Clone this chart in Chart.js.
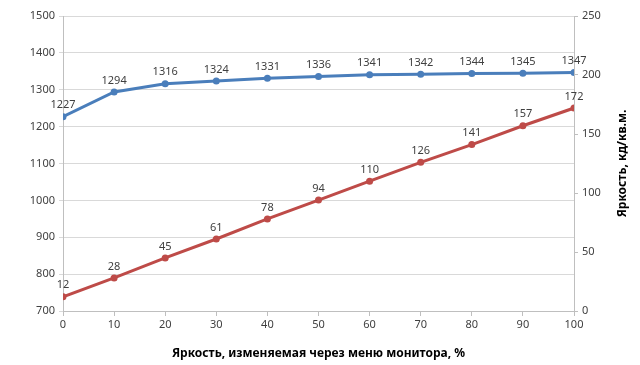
<!DOCTYPE html>
<html>
<head>
<meta charset="utf-8">
<script src="https://cdn.jsdelivr.net/npm/chart.js@4/dist/chart.umd.min.js"></script>
<style>
  html, body { margin: 0; padding: 0; background: #fff; }
  #wrap { width: 640px; height: 365px; position: relative; }
</style>
</head>
<body>
<div id="wrap"><canvas id="line-chart"></canvas></div>
<script>
// menu brightness setting, %
var xValues = [0, 10, 20, 30, 40, 50, 60, 70, 80, 90, 100];
// left axis series (blue)
var blueValues = [1227, 1294, 1316, 1324, 1331, 1336, 1341, 1342, 1344, 1345, 1347];
// right axis series: brightness, cd/m2 (red)
var redValues = [12, 28, 45, 61, 78, 94, 110, 126, 141, 157, 172];

var xTitle = "Яркость, изменяемая через меню монитора, %";
var rightTitle = "Яркость, кд/кв.м.";

function toPoints(vals) {
  return xValues.map(function (x, i) { return { x: x, y: vals[i] }; });
}
function plain(v) { return String(v); }

var font = "'Noto Sans', 'Liberation Sans', sans-serif";
var gridGray = "#d9d9d9";
var axisGray = "#bfbfbf";

// value labels above each point
var pointLabels = {
  id: 'pointLabels',
  afterDatasetsDraw: function (chart) {
    var ctx = chart.ctx;
    ctx.save();
    ctx.font = "11px " + font;
    ctx.fillStyle = "#404040";
    ctx.textAlign = "center";
    ctx.textBaseline = "bottom";
    chart.data.datasets.forEach(function (ds, di) {
      chart.getDatasetMeta(di).data.forEach(function (pt, i) {
        ctx.fillText(ds.data[i].y, pt.x, pt.y - 6);
      });
    });
    ctx.restore();
  }
};

// right axis title reads bottom-to-top
var rightTitlePlugin = {
  id: 'rightTitle',
  afterDraw: function (chart) {
    var ctx = chart.ctx;
    var area = chart.chartArea;
    ctx.save();
    ctx.translate(623, (area.top + area.bottom) / 2);
    ctx.rotate(-Math.PI / 2);
    ctx.font = "bold 12px " + font;
    ctx.fillStyle = "#000";
    ctx.textAlign = "center";
    ctx.textBaseline = "middle";
    ctx.fillText(rightTitle, 0, 0);
    ctx.restore();
  }
};

var ctx = document.getElementById("line-chart");
var lineChart = new Chart(ctx, {
  type: 'line',
  data: {
    datasets: [
      {
        label: "blue",
        data: toPoints(blueValues),
        yAxisID: 'y',
        borderColor: "#4a7ebb",
        backgroundColor: "#4a7ebb",
        borderWidth: 3,
        pointRadius: 3.5,
        pointBorderWidth: 0,
        tension: 0
      },
      {
        label: "red",
        data: toPoints(redValues),
        yAxisID: 'y1',
        borderColor: "#be4b48",
        backgroundColor: "#be4b48",
        borderWidth: 3,
        pointRadius: 3.5,
        pointBorderWidth: 0,
        tension: 0
      }
    ]
  },
  options: {
    responsive: true,
    maintainAspectRatio: false,
    animation: false,
    layout: { padding: { top: 16, left: 0, right: 0, bottom: 0 } },
    plugins: {
      legend: { display: false },
      tooltip: { enabled: false }
    },
    scales: {
      x: {
        type: 'linear',
        min: 0, max: 100,
        ticks: { stepSize: 10, callback: plain, color: "#404040", font: { family: font, size: 11 }, padding: 2 },
        grid: { drawOnChartArea: false, color: axisGray, tickLength: 5 },
        border: { color: axisGray },
        title: { display: true, text: xTitle, color: "#000", font: { family: font, size: 12, weight: 'bold' }, padding: { top: 8 } },
        afterFit: function (s) { s.height = 54; }
      },
      y: {
        position: 'left',
        min: 700, max: 1500,
        ticks: { stepSize: 100, callback: plain, color: "#404040", font: { family: font, size: 11 }, padding: 4 },
        grid: { color: gridGray, tickLength: 4 },
        border: { color: axisGray },
        afterFit: function (s) { s.width = 63; }
      },
      y1: {
        position: 'right',
        min: 0, max: 250,
        ticks: { stepSize: 50, callback: plain, color: "#404040", font: { family: font, size: 11 }, padding: 4 },
        grid: { drawOnChartArea: false, color: axisGray, tickLength: 4 },
        border: { color: axisGray },
        afterFit: function (s) { s.width = 66; }
      }
    }
  },
  plugins: [pointLabels, rightTitlePlugin]
});
</script>
</body>
</html>
